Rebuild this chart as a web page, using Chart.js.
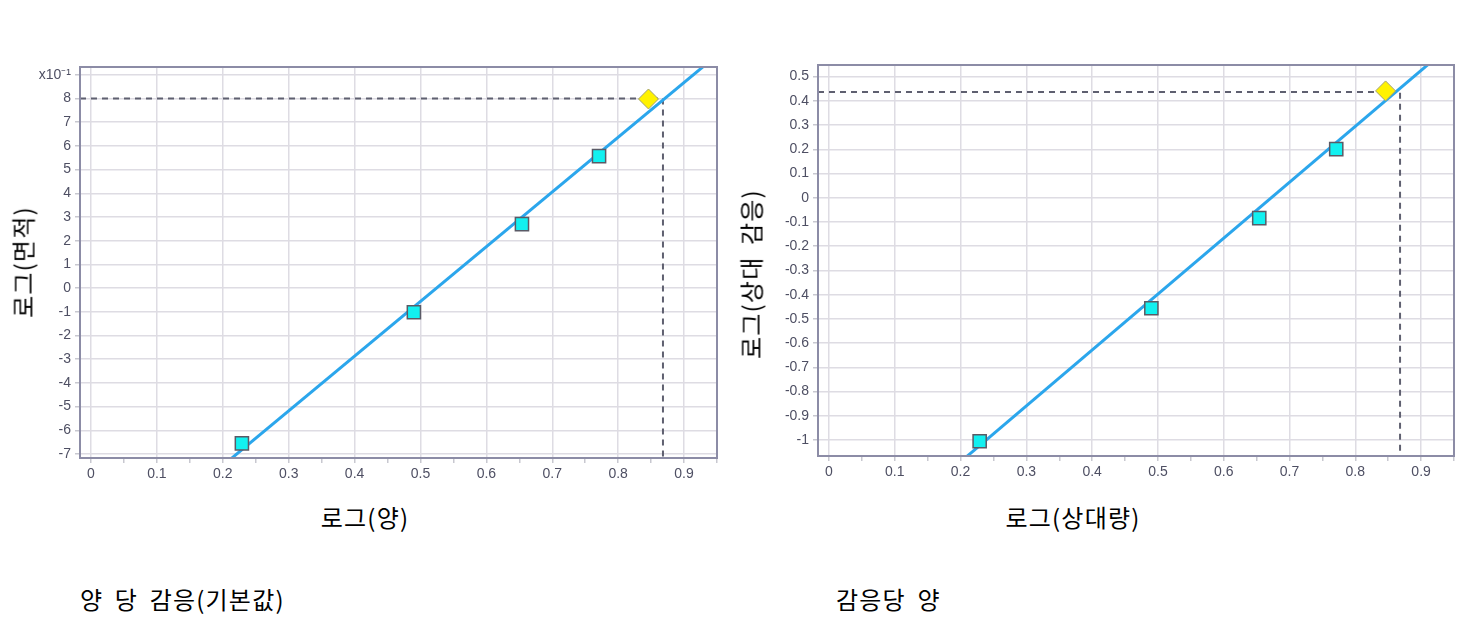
<!DOCTYPE html>
<html>
<head>
<meta charset="utf-8">
<script src="https://cdn.jsdelivr.net/npm/chart.js@4"></script>
<style>
  body { margin: 0; background: #fff; width: 1477px; height: 619px; position: relative; overflow: hidden; }
  .box { position: absolute; top: 40px; height: 440px; }
  .txt { position: absolute; font-family: "Noto Sans CJK KR", sans-serif; font-size: 24px; color: #000; white-space: nowrap; letter-spacing: 1.2px; word-spacing: 5px; }
  .ctr { transform: translate(-50%, -50%); }
  .rot { transform: translate(-50%, -50%) rotate(-90deg); }
</style>
</head>
<body>
<div class="box" style="left:0;width:740px"><canvas id="chartLeft"></canvas></div>
<div class="box" style="left:740px;width:737px"><canvas id="chartRight"></canvas></div>

<div class="txt rot" style="left:22px;top:262px">로그(면적)</div>
<div class="txt ctr" style="left:365px;top:516px">로그(양)</div>
<div class="txt rot" style="left:750px;top:274px">로그(상대 감응)</div>
<div class="txt ctr" style="left:1073px;top:516px">로그(상대량)</div>
<div class="txt" style="left:80px;top:581px">양 당 감응(기본값)</div>
<div class="txt" style="left:836px;top:581px">감응당 양</div>

<script>
// Datos

// estándares: log(cantidad)
const logAmount = [0.229, 0.490, 0.654, 0.771];
// log(área), izquierda
const logArea = [-0.655, -0.102, 0.270, 0.557];
// log(respuesta relativa), derecha
const logRelResp = [-1.005, -0.456, -0.084, 0.201];

// muestra desconocida (rombo)
const unkX = [0.846];
const unkArea = [0.798];
const unkResp = [0.441];

// lectura con lineas punteadas
const readX = 0.868;
const readArea = 0.8;
const readResp = 0.437;

// recta de calibración (extremos)
const fitX = [0.2, 0.95];
const fitArea = [-0.749, 0.983];
const fitResp = [-1.09, 0.641];

// rangos de ejes
const xRange = [-0.0167, 0.95];
const leftYRange = [-0.717, 0.933];
const rightYRange = [-1.066, 0.548];

const tickColor = "#4e4f63";
const gridColor = "#dedce3";
const frameColor = "#8c8ca6";

// marco del area del grafico
const framePlugin = {
  id: "frame",
  afterDraw(chart) {
    const { ctx, chartArea: a } = chart;
    ctx.save();
    ctx.strokeStyle = frameColor;
    ctx.lineWidth = 2;
    ctx.strokeRect(a.left, a.top, a.right - a.left, a.bottom - a.top);
    ctx.restore();
  },
};

function pts(xs, ys) {
  return xs.map((x, i) => ({ x: x, y: ys[i] }));
}

function isMajor(v, step) {
  return Math.abs(v / step - Math.round(v / step)) < 1e-6;
}

function crearChart(id, ys, unkY, readY, fitY, yRange, yStep, yLabel, yWidth, xHeight, pad) {
  const datasets = [
    {
      data: pts(logAmount, ys),
      pointStyle: "rect",
      pointRadius: 9.3,
      pointBackgroundColor: "#12f0f0",
      pointBorderColor: "#5a5a66",
      pointBorderWidth: 1.5,
      showLine: false,
      order: 0,
    },
    {
      data: pts(unkX, unkY),
      pointStyle: "rectRot",
      pointRadius: 10,
      pointBackgroundColor: "#fff200",
      pointBorderColor: "#a0a070",
      pointBorderWidth: 1,
      showLine: false,
      order: 0,
    },
    {
      data: pts(fitX, fitY),
      borderColor: "#2ba6ec",
      borderWidth: 3,
      pointRadius: 0,
      showLine: true,
      order: 1,
    },
    {
      data: [
        { x: xRange[0], y: readY },
        { x: readX, y: readY },
        { x: readX, y: yRange[0] },
      ],
      borderColor: "#5f6070",
      borderWidth: 2,
      borderDash: [6, 5],
      pointRadius: 0,
      showLine: true,
      order: 2,
    },
  ];

  return new Chart(document.getElementById(id), {
    type: "scatter",
    data: { datasets },
    options: {
      responsive: true,
      maintainAspectRatio: false,
      animation: false,
      layout: { padding: pad },
      plugins: { legend: { display: false }, tooltip: { enabled: false } },
      scales: {
        x: {
          min: xRange[0],
          max: xRange[1],
          afterFit: (s) => { s.height = xHeight; },
          ticks: {
            stepSize: 0.05,
            includeBounds: false,
            autoSkip: false,
            maxRotation: 0,
            color: tickColor,
            font: { family: "Liberation Sans", size: 14 },
            padding: 3,
            callback: (v) => (isMajor(v, 0.1) ? String(Math.round(v * 10) / 10) : ""),
          },
          grid: {
            color: (c) => (c.tick && isMajor(c.tick.value, 0.1) ? gridColor : "rgba(0,0,0,0)"),
            lineWidth: 1.5,
            tickColor: "#c8c8d0",
            tickLength: 5,
          },
          border: { display: false },
        },
        y: {
          min: yRange[0],
          max: yRange[1],
          afterFit: (s) => { s.width = yWidth; },
          ticks: {
            stepSize: yStep,
            includeBounds: false,
            autoSkip: false,
            color: tickColor,
            font: { family: "Liberation Sans", size: 14 },
            padding: 4,
            callback: yLabel,
          },
          grid: {
            color: gridColor,
            lineWidth: 1.5,
            tickColor: "#c8c8d0",
            tickLength: 5,
          },
          border: { display: false },
        },
      },
    },
    plugins: [framePlugin],
  });
}

// izquierda: etiquetas en x10^-1
crearChart(
  "chartLeft", logArea, unkArea, readArea, fitArea, leftYRange, 0.1,
  (v) => {
    const n = Math.round(v * 10);
    return n === 9 ? "x10⁻¹" : String(n);
  },
  80, 22, { top: 27, right: 23, left: 0, bottom: 0 }
);

// derecha
crearChart(
  "chartRight", logRelResp, unkResp, readResp, fitResp, rightYRange, 0.1,
  (v) => String(Math.round(v * 10) / 10),
  78, 24, { top: 25, right: 23, left: 0, bottom: 0 }
);
</script>
</body>
</html>
